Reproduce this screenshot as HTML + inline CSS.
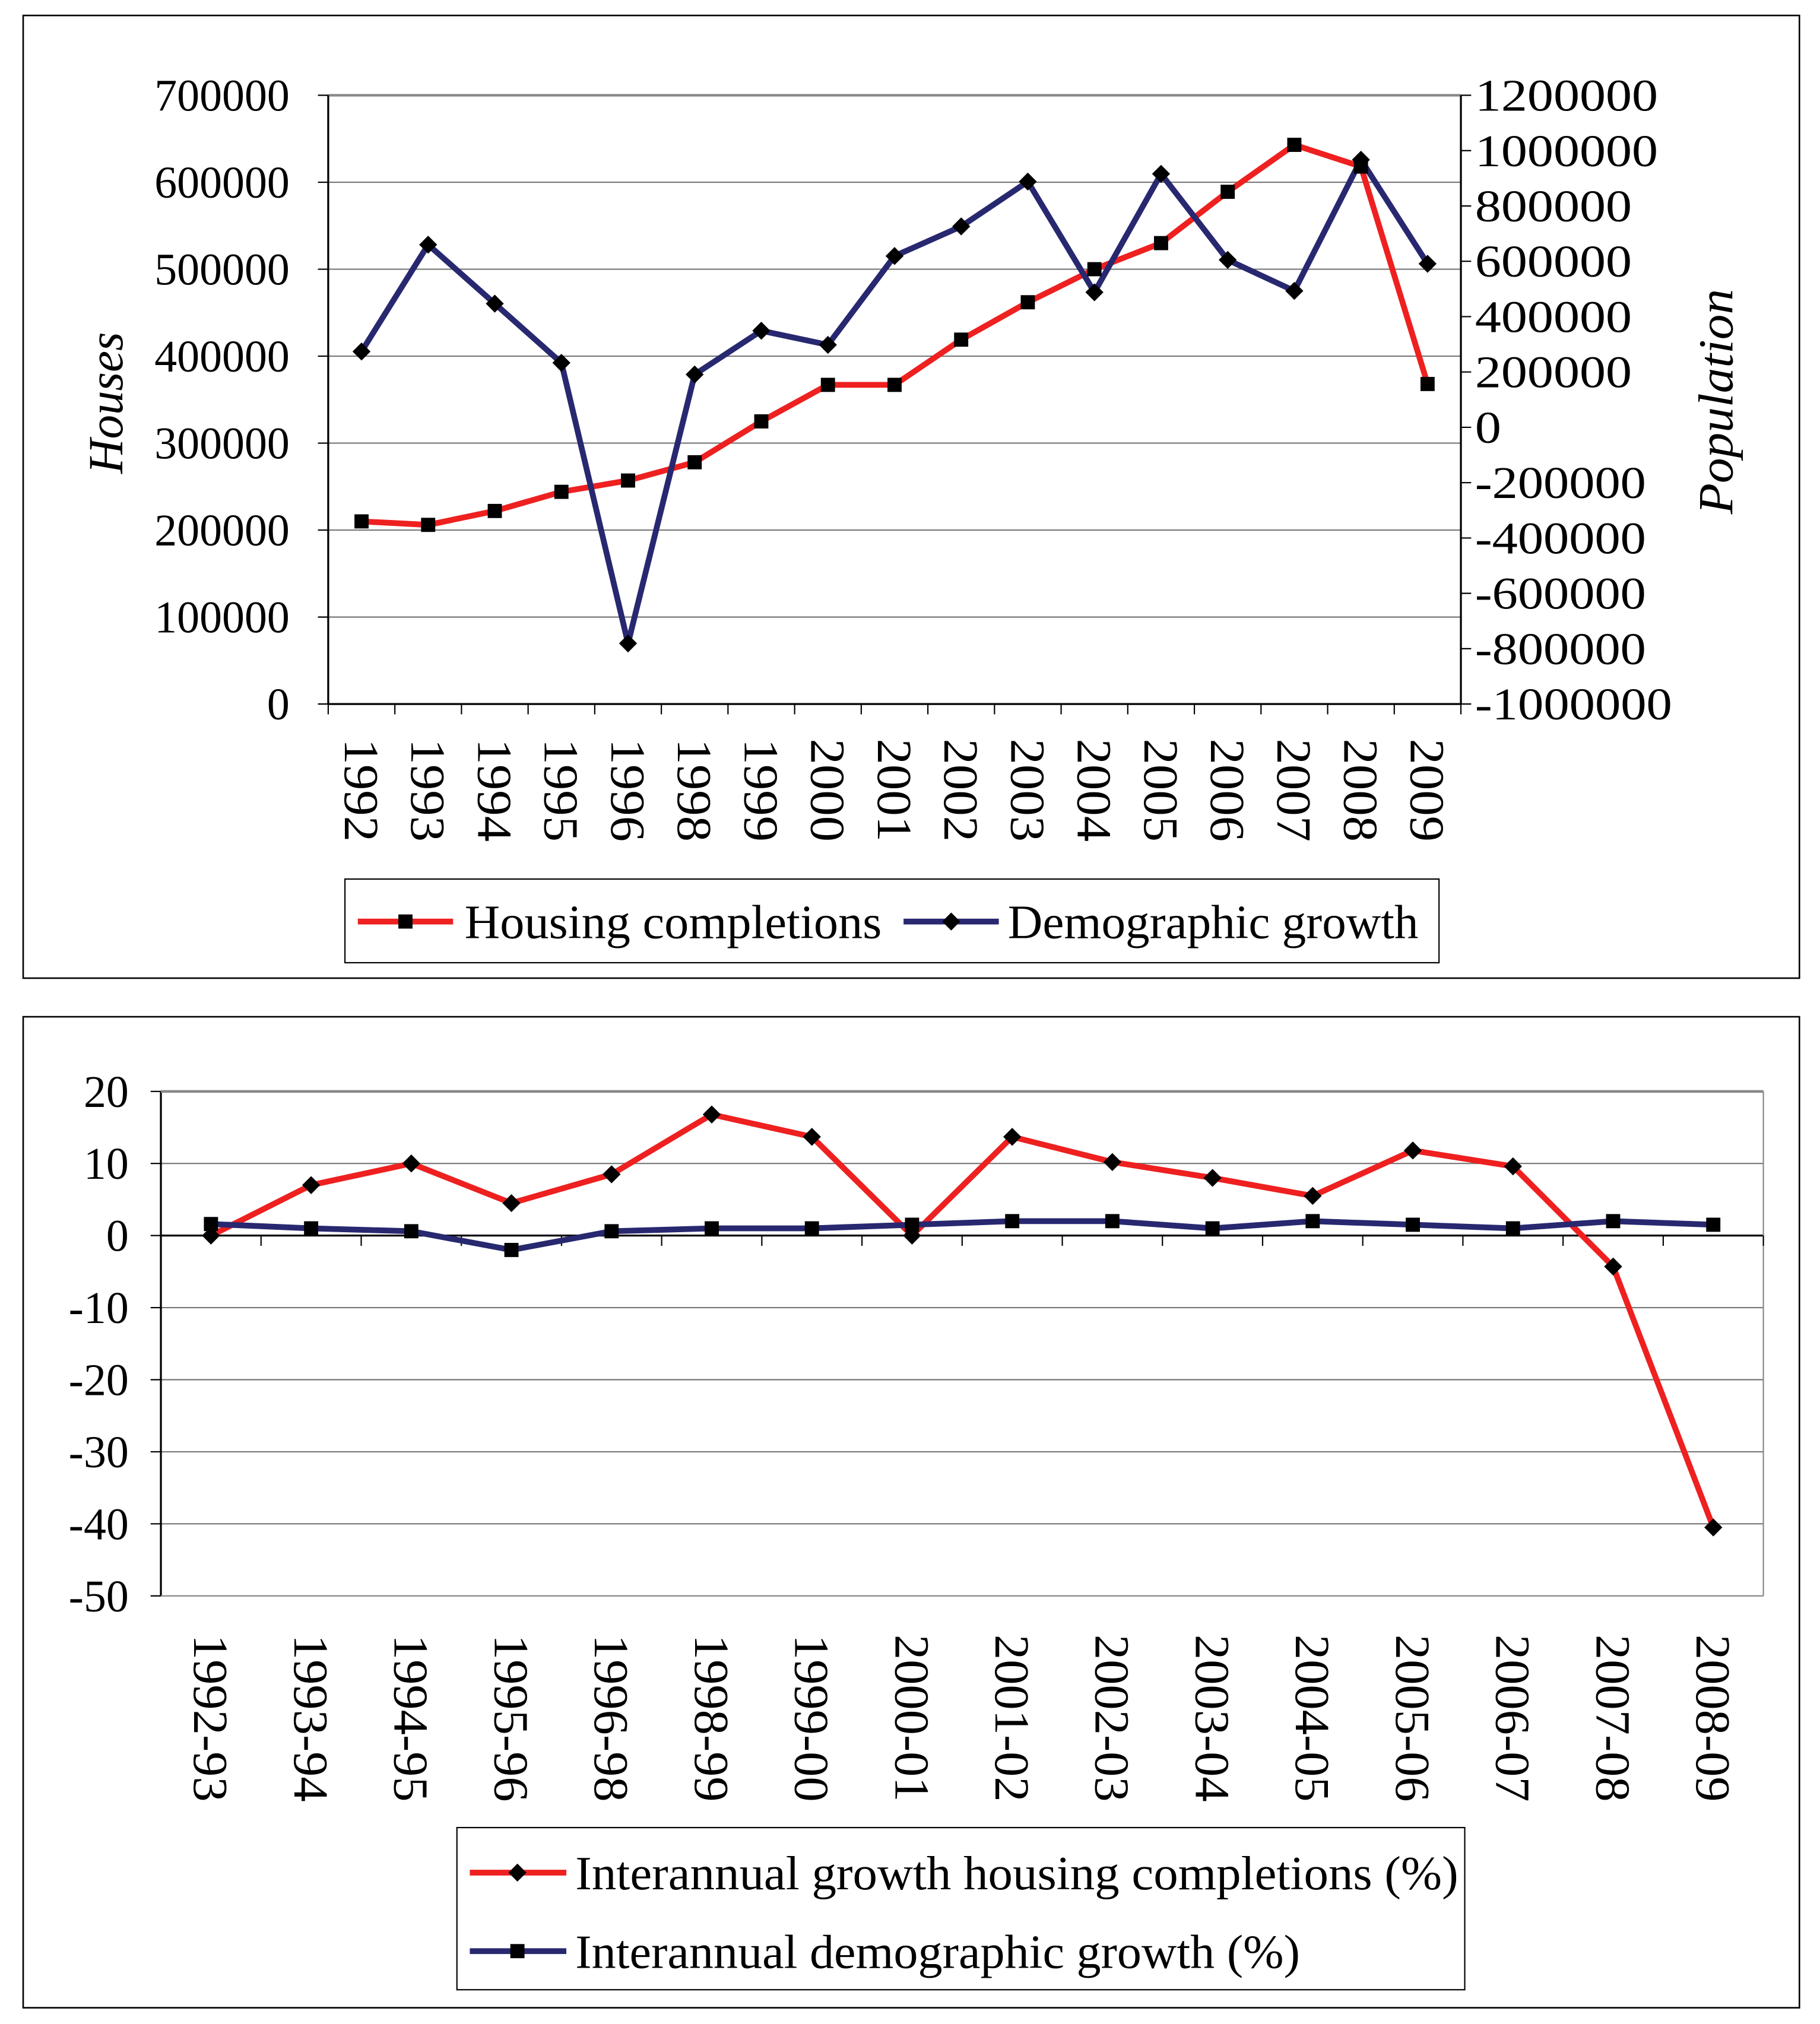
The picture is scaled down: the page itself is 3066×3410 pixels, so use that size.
<!DOCTYPE html>
<html><head><meta charset="utf-8"><style>
html,body{margin:0;padding:0;background:#fff}
svg{display:block}
text{font-family:"Liberation Serif",serif;fill:#000}
</style></head><body>
<svg id="s" width="3066" height="3410" viewBox="0 0 1414 1572.6" xmlns="http://www.w3.org/2000/svg">
<rect x="18" y="12" width="1380" height="748" fill="#fff" stroke="#000" stroke-width="1.2"/>
<rect x="18" y="790" width="1380" height="770" fill="#fff" stroke="#000" stroke-width="1.2"/>
<g id="g1"></g>
<g id="g2"></g>
</svg>
<script>
const years=["1992","1993","1994","1995","1996","1998","1999","2000","2001","2002","2003","2004","2005","2006","2007","2008","2009"];
const housing=[210000,206000,222000,244000,257000,278000,325000,367000,367000,419000,462000,500000,530000,589000,643000,618000,368000];
const demographic=[274000,660000,447000,233000,-781000,191000,349000,298000,619000,726000,888000,488000,916000,605000,493000,967000,591000];
const leftTicks=[0,100000,200000,300000,400000,500000,600000,700000];
const rightTicks=[-1000000,-800000,-600000,-400000,-200000,0,200000,400000,600000,800000,1000000,1200000];
const periods=["1992-93","1993-94","1994-95","1995-96","1996-98","1998-99","1999-00","2000-01","2001-02","2002-03","2003-04","2004-05","2005-06","2006-07","2007-08","2008-09"];
const growthHousing=[0,7,10,4.5,8.5,16.8,13.7,0,13.7,10.2,8,5.5,11.8,9.6,-4.3,-40.5];
const growthDemo=[1.6,1,0.6,-2,0.6,1,1,1.5,2,2,1,2,1.5,1,2,1.5];
const growthTicks=[-50,-40,-30,-20,-10,0,10,20];
const RED="#ee2020",NAVY="#282870",NS="http://www.w3.org/2000/svg";
function mk(p,tag,attrs,txt){const e=document.createElementNS(NS,tag);for(const k in attrs)e.setAttribute(k,attrs[k]);if(txt!==undefined)e.textContent=txt;p.appendChild(e);return e;}
function marker(p,shape,x,y,name){let e;
 if(shape==="sq"){e=mk(p,"rect",{x:x-5.5,y:y-5.5,width:11,height:11,fill:"#000"});}
 else{e=mk(p,"polygon",{points:`${x},${y-7} ${x+7},${y} ${x},${y+7} ${x-7},${y}`,fill:"#000"});}
 
 }
// top chart
(function(){const g=document.getElementById("g1");
 const L=255,R=1135,T=74,B=547,n=years.length,w=(R-L)/n;
 const X=i=>L+w*(i+0.5),YL=v=>B-(v/700000)*(B-T),YR=v=>B-((v+1000000)/2200000)*(B-T);
 leftTicks.forEach(v=>{const y=YL(v);
  if(v>0){const l=mk(g,"line",{x1:L,x2:R,y1:y,y2:y,stroke:v===700000?"#888":"#777","stroke-width":v===700000?2:1});}
  mk(g,"line",{x1:L-8,x2:L,y1:y,y2:y,stroke:"#000"});
  const t=mk(g,"text",{x:L-30,y:y+12,"text-anchor":"end","font-size":35},v);
  });
 rightTicks.forEach(v=>{const y=YR(v);mk(g,"line",{x1:R,x2:R+8,y1:y,y2:y,stroke:"#000"});
  const s=String(v),digits=s.replace("-","").length,len=digits*20.3+(v<0?11:0);
  const t=mk(g,"text",{x:R+11,y:y+12,"font-size":35,textLength:len,lengthAdjust:"spacingAndGlyphs"},s);
  });
 mk(g,"line",{x1:L,x2:L,y1:T,y2:B,stroke:"#000","stroke-width":1.5});
 mk(g,"line",{x1:R,x2:R,y1:T,y2:B,stroke:"#000","stroke-width":1.5});
 mk(g,"line",{x1:L,x2:R,y1:B,y2:B,stroke:"#000","stroke-width":1.5});
 for(let i=0;i<=n;i++){const x=L+w*i;mk(g,"line",{x1:x,x2:x,y1:B,y2:B+8,stroke:"#000"});}
 years.forEach((yr,i)=>{const t=mk(g,"text",{transform:`translate(${X(i)-13},574) rotate(90)`,"font-size":38,textLength:80,lengthAdjust:"spacingAndGlyphs"},yr);
  });
 let t=mk(g,"text",{transform:"translate(95,313) rotate(-90)","text-anchor":"middle","font-size":38,"font-style":"italic",textLength:110,lengthAdjust:"spacingAndGlyphs"},"Houses");
 
 t=mk(g,"text",{transform:"translate(1346,312) rotate(-90)","text-anchor":"middle","font-size":38,"font-style":"italic",textLength:175,lengthAdjust:"spacingAndGlyphs"},"Population");
 
 let p=mk(g,"polyline",{points:housing.map((v,i)=>X(i)+","+YL(v)).join(" "),fill:"none",stroke:RED,"stroke-width":4.5});
 
 p=mk(g,"polyline",{points:demographic.map((v,i)=>X(i)+","+YR(v)).join(" "),fill:"none",stroke:NAVY,"stroke-width":4.5});
 
 housing.forEach((v,i)=>marker(g,"sq",X(i),YL(v),"housing-point"));
 demographic.forEach((v,i)=>marker(g,"dia",X(i),YR(v),"demographic-point"));
 const lg=mk(g,"g",{});
 mk(lg,"rect",{x:268,y:683,width:850,height:65,fill:"#fff",stroke:"#000","stroke-width":1});
 mk(lg,"line",{x1:278,x2:352,y1:716,y2:716,stroke:RED,"stroke-width":4.5});marker(lg,"sq",315,716,"legend-marker-housing");
 t=mk(lg,"text",{x:361,y:729,"font-size":37,textLength:324,lengthAdjust:"spacingAndGlyphs"},"Housing completions");
 mk(lg,"line",{x1:702,x2:776,y1:716,y2:716,stroke:NAVY,"stroke-width":4.5});marker(lg,"dia",739,716,"legend-marker-demographic");
 t=mk(lg,"text",{x:783,y:729,"font-size":37,textLength:319,lengthAdjust:"spacingAndGlyphs"},"Demographic growth");
})();
// bottom chart
(function(){const g=document.getElementById("g2");
 const L=125,R=1370,T=848,B=1240,n=periods.length,w=(R-L)/n;
 const X=i=>L+w*(i+0.5),Y=v=>B-((v+50)/70)*(B-T);
 growthTicks.forEach(v=>{const y=Y(v);
  if(v>-50){const l=mk(g,"line",{x1:L,x2:R,y1:y,y2:y,stroke:v===0?"#000":"#777","stroke-width":v===0?1.5:1});}
  mk(g,"line",{x1:L-8,x2:L,y1:y,y2:y,stroke:"#000"});
  const t=mk(g,"text",{x:L-25,y:y+12,"text-anchor":"end","font-size":35},v);
  });
 mk(g,"line",{x1:L,x2:L,y1:T,y2:B,stroke:"#000","stroke-width":1.5});
 mk(g,"line",{x1:L,x2:R,y1:T,y2:T,stroke:"#888","stroke-width":2});
 mk(g,"line",{x1:R,x2:R,y1:T,y2:B,stroke:"#888","stroke-width":1});
 mk(g,"line",{x1:L,x2:R,y1:B,y2:B,stroke:"#888","stroke-width":1});
 for(let i=0;i<=n;i++){const x=L+w*i;mk(g,"line",{x1:x,x2:x,y1:Y(0),y2:Y(0)+8,stroke:"#000"});}
 periods.forEach((p,i)=>{const t=mk(g,"text",{transform:`translate(${X(i)-13},1270) rotate(90)`,"font-size":38,textLength:130,lengthAdjust:"spacingAndGlyphs"},p);
  });
 let p=mk(g,"polyline",{points:growthHousing.map((v,i)=>X(i)+","+Y(v)).join(" "),fill:"none",stroke:RED,"stroke-width":4.5});
 
 p=mk(g,"polyline",{points:growthDemo.map((v,i)=>X(i)+","+Y(v)).join(" "),fill:"none",stroke:NAVY,"stroke-width":4.5});
 
 growthHousing.forEach((v,i)=>marker(g,"dia",X(i),Y(v),"housing-growth-point"));
 growthDemo.forEach((v,i)=>marker(g,"sq",X(i),Y(v),"demographic-growth-point"));
 const lg=mk(g,"g",{});
 mk(lg,"rect",{x:355,y:1420,width:783,height:126,fill:"#fff",stroke:"#000","stroke-width":1});
 mk(lg,"line",{x1:365,x2:440,y1:1455,y2:1455,stroke:RED,"stroke-width":4.5});marker(lg,"dia",402,1455,"legend-marker-housing-growth");
 let t=mk(lg,"text",{x:447,y:1468,"font-size":37,textLength:686,lengthAdjust:"spacingAndGlyphs"},"Interannual growth housing completions (%)");
 mk(lg,"line",{x1:365,x2:440,y1:1516,y2:1516,stroke:NAVY,"stroke-width":4.5});marker(lg,"sq",402,1516,"legend-marker-demographic-growth");
 t=mk(lg,"text",{x:447,y:1529,"font-size":37,textLength:563,lengthAdjust:"spacingAndGlyphs"},"Interannual demographic growth (%)");
})();
</script>
</body></html>
